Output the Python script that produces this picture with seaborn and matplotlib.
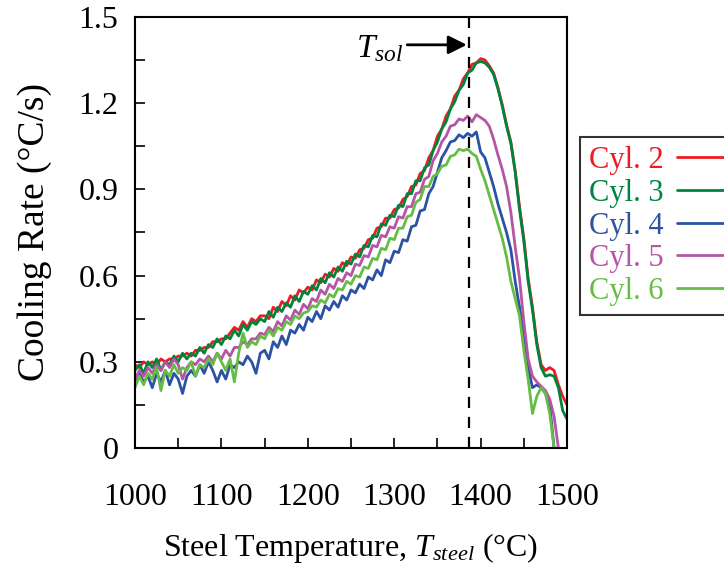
import numpy as np
import pandas as pd
import matplotlib
matplotlib.use("Agg")
import matplotlib.pyplot as plt
import seaborn as sns
from matplotlib.lines import Line2D
from matplotlib.ticker import MultipleLocator

# ---------------- data ----------------
temps = list(range(1000, 1501, 5))  # steel temperature, degC

cyl2 = [0.29, 0.28, 0.30, 0.29, 0.30, 0.29, 0.31, 0.30, 0.31, 0.31,
        0.32, 0.32, 0.33, 0.32, 0.34, 0.34, 0.35, 0.35, 0.37, 0.37,
        0.38, 0.38, 0.40, 0.42, 0.41, 0.44, 0.42, 0.45, 0.44, 0.46,
        0.46, 0.45, 0.49, 0.475, 0.51, 0.495, 0.53, 0.515, 0.55, 0.54,
        0.56, 0.55, 0.585, 0.575, 0.605, 0.595, 0.625, 0.615, 0.645, 0.635,
        0.665, 0.66, 0.69, 0.695, 0.725, 0.73, 0.765, 0.77, 0.80, 0.80,
        0.83, 0.835, 0.865, 0.875, 0.91, 0.915, 0.955, 0.965, 1.01, 1.035,
        1.085, 1.11, 1.155, 1.18, 1.225, 1.245, 1.285, 1.305, 1.335, 1.34,
        1.355, 1.35, 1.33, 1.305, 1.255, 1.195, 1.125, 1.065, 0.965, 0.84,
        0.73, 0.59, 0.49, 0.37, 0.29, 0.27, 0.28, 0.27, 0.22, 0.18,
        0.15]

cyl3 = [0.27, 0.29, 0.26, 0.30, 0.28, 0.31, 0.27, 0.30, 0.29, 0.32,
        0.30, 0.33, 0.31, 0.33, 0.32, 0.35, 0.33, 0.36, 0.35, 0.38,
        0.36, 0.39, 0.38, 0.41, 0.39, 0.43, 0.41, 0.44, 0.43, 0.45,
        0.44, 0.475, 0.455, 0.49, 0.475, 0.505, 0.49, 0.53, 0.51, 0.545,
        0.535, 0.565, 0.55, 0.59, 0.575, 0.61, 0.595, 0.63, 0.615, 0.65,
        0.64, 0.675, 0.665, 0.705, 0.70, 0.74, 0.735, 0.78, 0.775, 0.81,
        0.805, 0.845, 0.84, 0.885, 0.885, 0.93, 0.93, 0.975, 0.985, 1.035,
        1.065, 1.11, 1.135, 1.18, 1.205, 1.245, 1.265, 1.305, 1.315, 1.34,
        1.345, 1.34, 1.325, 1.30, 1.25, 1.19, 1.12, 1.06, 0.96, 0.83,
        0.72, 0.58, 0.48, 0.36, 0.28, 0.25, 0.255, 0.25, 0.21, 0.13,
        0.10]

cyl4 = [0.22, 0.26, 0.23, 0.25, 0.21, 0.26, 0.23, 0.27, 0.22, 0.26,
        0.24, 0.19, 0.25, 0.27, 0.25, 0.29, 0.26, 0.30, 0.27, 0.23,
        0.27, 0.24, 0.29, 0.28, 0.30, 0.29, 0.32, 0.30, 0.26, 0.33,
        0.34, 0.31, 0.37, 0.35, 0.39, 0.36, 0.41, 0.40, 0.43, 0.41,
        0.455, 0.44, 0.475, 0.45, 0.495, 0.48, 0.51, 0.49, 0.53, 0.515,
        0.55, 0.54, 0.57, 0.555, 0.595, 0.585, 0.62, 0.60, 0.655, 0.645,
        0.685, 0.68, 0.725, 0.72, 0.77, 0.775, 0.825, 0.83, 0.885, 0.91,
        0.96, 1.01, 1.035, 1.065, 1.07, 1.09, 1.08, 1.095, 1.085, 1.10,
        1.03, 1.01, 0.96, 0.91, 0.85, 0.80, 0.75, 0.69, 0.58, 0.49,
        0.40, 0.28, 0.21, 0.22, 0.21, 0.19, 0.15, 0.0, np.nan, np.nan,
        np.nan]

cyl5 = [0.24, 0.27, 0.25, 0.28, 0.26, 0.29, 0.27, 0.30, 0.28, 0.31,
        0.29, 0.24, 0.28, 0.30, 0.29, 0.31, 0.30, 0.32, 0.30, 0.33,
        0.31, 0.34, 0.32, 0.35, 0.35, 0.37, 0.36, 0.38, 0.38, 0.40,
        0.395, 0.42, 0.405, 0.44, 0.425, 0.46, 0.445, 0.48, 0.465, 0.50,
        0.485, 0.52, 0.51, 0.55, 0.535, 0.57, 0.555, 0.59, 0.58, 0.61,
        0.60, 0.64, 0.635, 0.67, 0.665, 0.705, 0.70, 0.74, 0.735, 0.77,
        0.765, 0.805, 0.80, 0.84, 0.84, 0.885, 0.89, 0.935, 0.945, 1.00,
        1.025, 1.065, 1.085, 1.12, 1.125, 1.145, 1.14, 1.155, 1.135, 1.16,
        1.15, 1.14, 1.12, 1.075, 1.02, 0.97, 0.91, 0.82, 0.70, 0.59,
        0.44, 0.31, 0.25, 0.23, 0.215, 0.20, 0.17, 0.11, 0.0, np.nan,
        np.nan]

cyl6 = [0.21, 0.25, 0.22, 0.26, 0.24, 0.28, 0.20, 0.27, 0.25, 0.29,
        0.26, 0.28, 0.27, 0.30, 0.25, 0.29, 0.28, 0.31, 0.29, 0.33,
        0.30, 0.27, 0.31, 0.23, 0.33, 0.40, 0.35, 0.37, 0.36, 0.39,
        0.38, 0.41, 0.39, 0.42, 0.41, 0.44, 0.43, 0.46, 0.45, 0.47,
        0.475, 0.495, 0.49, 0.515, 0.505, 0.535, 0.525, 0.555, 0.55, 0.58,
        0.57, 0.60, 0.595, 0.63, 0.625, 0.66, 0.655, 0.695, 0.69, 0.73,
        0.725, 0.765, 0.765, 0.805, 0.81, 0.855, 0.865, 0.91, 0.91, 0.945,
        0.955, 0.98, 0.985, 1.015, 1.02, 1.04, 1.035, 1.04, 1.025, 1.015,
        0.97, 0.93, 0.88, 0.83, 0.78, 0.73, 0.665, 0.58, 0.52, 0.46,
        0.34, 0.24, 0.12, 0.18, 0.21, 0.19, 0.12, 0.0, np.nan, np.nan,
        np.nan]

series_names = ["Cyl. 2", "Cyl. 3", "Cyl. 4", "Cyl. 5", "Cyl. 6"]
series_values = [cyl2, cyl3, cyl4, cyl5, cyl6]
series_colors = ["#ED1C24", "#00843D", "#2B52A3", "#B655A6", "#66BD45"]
draw_order = ["Cyl. 2", "Cyl. 3", "Cyl. 4", "Cyl. 5", "Cyl. 6"]

xticks = [1000, 1100, 1200, 1300, 1400, 1500]
yticks = [0, 0.3, 0.6, 0.9, 1.2, 1.5]
ytick_labels = ["0", "0.3", "0.6", "0.9", "1.2", "1.5"]
t_sol = 1387

# ---------------- style ----------------
sns.set_style("ticks")
plt.rcParams["font.family"] = ["Liberation Serif", "DejaVu Serif"]
plt.rcParams["mathtext.fontset"] = "custom"
plt.rcParams["mathtext.rm"] = "Liberation Serif"
plt.rcParams["mathtext.it"] = "Liberation Serif:italic"
plt.rcParams["text.color"] = "black"
plt.rcParams["axes.labelcolor"] = "black"
plt.rcParams["xtick.color"] = "black"
plt.rcParams["ytick.color"] = "black"

frames = []
for name, vals in zip(series_names, series_values):
    frames.append(pd.DataFrame({"T": temps, "rate": vals, "series": name}))
df = pd.concat(frames, ignore_index=True).dropna()

fig = plt.figure(figsize=(7.24, 5.65), dpi=100)
ax = fig.add_axes([0.1865, 0.207, 0.5967, 0.763])

palette = dict(zip(series_names, series_colors))
sns.lineplot(data=df, x="T", y="rate", hue="series", hue_order=draw_order,
             palette=palette, estimator=None, lw=2.0, legend=False, ax=ax)

ax.set_xlim(1000, 1500)
ax.set_ylim(0, 1.5)
ax.set_xticks(xticks)
ax.xaxis.set_minor_locator(MultipleLocator(50))
ax.set_yticks(yticks)
ax.set_yticklabels(ytick_labels)
ax.yaxis.set_minor_locator(MultipleLocator(0.15))
ax.tick_params(which="both", direction="in", length=7, width=1.2,
               top=False, right=False, colors="black")
ax.tick_params(axis="both", labelsize=23)
ax.tick_params(axis="y", pad=12)
ax.tick_params(axis="x", pad=25)
for sp in ax.spines.values():
    sp.set_linewidth(1.5)
    sp.set_color("black")

ax.set_xlabel("Steel Temperature, $T_{steel}$ (°C)", fontsize=23, labelpad=14)
ax.set_ylabel("Cooling Rate (°C/s)", fontsize=27, labelpad=19)

ax.axvline(t_sol, color="black", lw=1.6, ls=(0, (5, 4)), zorder=5)
ax.annotate("", xy=(t_sol - 3, 1.403), xytext=(1315, 1.403),
            arrowprops=dict(arrowstyle="-|>", color="black", lw=2,
                            mutation_scale=28, shrinkA=0, shrinkB=0))
ax.text(1310, 1.39, "$T_{sol}$", fontsize=24, ha="right", va="center")

handles = [Line2D([0], [0], color=c, lw=2) for c in series_colors]
leg = ax.legend(handles, series_names, loc="upper left",
                bbox_to_anchor=(0.801, 0.7575), bbox_transform=fig.transFigure,
                borderaxespad=0, markerfirst=False, fontsize=22,
                labelcolor="linecolor", frameon=True, fancybox=False,
                handlelength=2.0, handletextpad=0.45, labelspacing=0.12,
                borderpad=0.3)
leg.get_frame().set_edgecolor("black")
leg.get_frame().set_linewidth(1.5)

fig.savefig("out.png", dpi=100)
